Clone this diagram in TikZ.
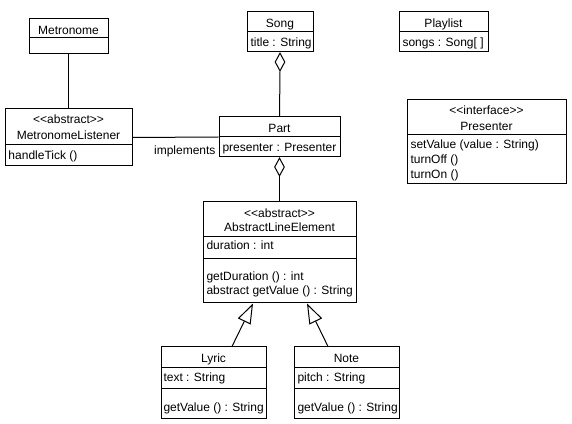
\documentclass[tikz,border=0pt]{standalone}
\usepackage{fontspec}
\setmainfont{Liberation Sans}
\usetikzlibrary{fit,shapes.geometric,arrows.meta}
\begin{document}
\begin{tikzpicture}[x=0.75pt,y=-0.75pt,line width=0.75pt,
  box/.style={draw,inner sep=0pt},
  ttl/.style={inner sep=0pt,text height=6.5pt,text depth=0pt,font=\fontsize{9}{11}\selectfont},
  attr/.style={ttl,anchor=west},
  agg/.style={diamond,draw,fill=white,inner sep=0pt,minimum width=7.5pt,minimum height=13.5pt,anchor=north},
  inherit/.style={-{Triangle[open,length=15pt,width=10.5pt]}}]
\useasboundingbox (0,0) rectangle (572,424);
% Metronome
\node[box,fit={(29,19) (108,54)}] (metronome) {};
\draw (29,38) -- (108,38);
\node[ttl] (metronomeT) at (68.5,30) {Metronome};
% MetronomeListener
\node[box,fit={(5,109) (132,166)}] (ml) {};
\draw (5,145) -- (132,145);
\node[ttl] (mlS) at (68.5,119) {<{}<abstract>{}>};
\node[ttl] (mlT) at (68.5,135) {MetronomeListener};
\node[attr] (mlA) at (8,155) {handleTick ()};
% Song
\node[box,fit={(247,12) (313,52)}] (song) {};
\draw (247,32) -- (313,32);
\node[ttl] (songT) at (280,23) {Song};
\node[attr] (songA) at (250,42) {title : String};
% Playlist
\node[box,fit={(399,12) (488,52)}] (playlist) {};
\draw (399,32) -- (488,32);
\node[ttl] (playlistT) at (443.5,23) {Playlist};
\node[attr] (playlistA) at (402,42) {songs : Song[ ]};
% Part
\node[box,fit={(219,117) (340,157)}] (part) {};
\draw (219,137) -- (340,137);
\node[ttl] (partT) at (279.5,128) {Part};
\node[attr] (partA) at (222,147) {presenter : Presenter};
% Presenter
\node[box,fit={(407,100) (566,184)}] (presenter) {};
\draw (407,135) -- (566,135);
\node[ttl] (presS) at (486.5,110) {<{}<interface>{}>};
\node[ttl] (presT) at (486.5,126) {Presenter};
\node[attr] (presA) at (410,144) {setValue (value : String)};
\node[attr] (presB) at (410,159) {turnOff ()};
\node[attr] (presC) at (410,174) {turnOn ()};
% AbstractLineElement
\node[box,fit={(203,202) (356,303)}] (ale) {};
\draw (203,237) -- (356,237);
\draw (203,259) -- (356,259);
\node[ttl] (aleS) at (279.5,213) {<{}<abstract>{}>};
\node[ttl] (aleT) at (279.5,227) {AbstractLineElement};
\node[attr] (aleA) at (206,245) {duration : int};
\node[attr] (aleB) at (206,276) {getDuration () : int};
\node[attr] (aleC) at (206,290) {abstract getValue () : String};
% Lyric
\node[box,fit={(161,347) (266,418)}] (lyric) {};
\draw (161,368) -- (266,368);
\draw (161,389) -- (266,389);
\node[ttl] (lyricT) at (213.5,358) {Lyric};
\node[attr] (lyricA) at (163,377) {text : String};
\node[attr] (lyricB) at (163,407) {getValue () : String};
% Note
\node[box,fit={(294,347) (399,418)}] (note) {};
\draw (294,368) -- (399,368);
\draw (294,389) -- (399,389);
\node[ttl] (noteT) at (346.5,358) {Note};
\node[attr] (noteA) at (297,377) {pitch : String};
\node[attr] (noteB) at (297,407) {getValue () : String};
% connectors
\draw (metronome.south) -- (ml.north);
\draw (ml.east) -- (part.west);
\node[ttl,anchor=east] (impl) at (216,150) {implements};
\node[agg] (d1) at (song.south) {};
\draw (d1.south) -- (part.north);
\node[agg] (d2) at (part.south) {};
\draw (d2.south) -- (ale.north);
\draw[inherit] ([xshift=13.875pt]lyric.north) -- ([xshift=-19.875pt]ale.south);
\draw[inherit] ([xshift=-13.875pt]note.north) -- ([xshift=20.625pt]ale.south);
\end{tikzpicture}
\end{document}
